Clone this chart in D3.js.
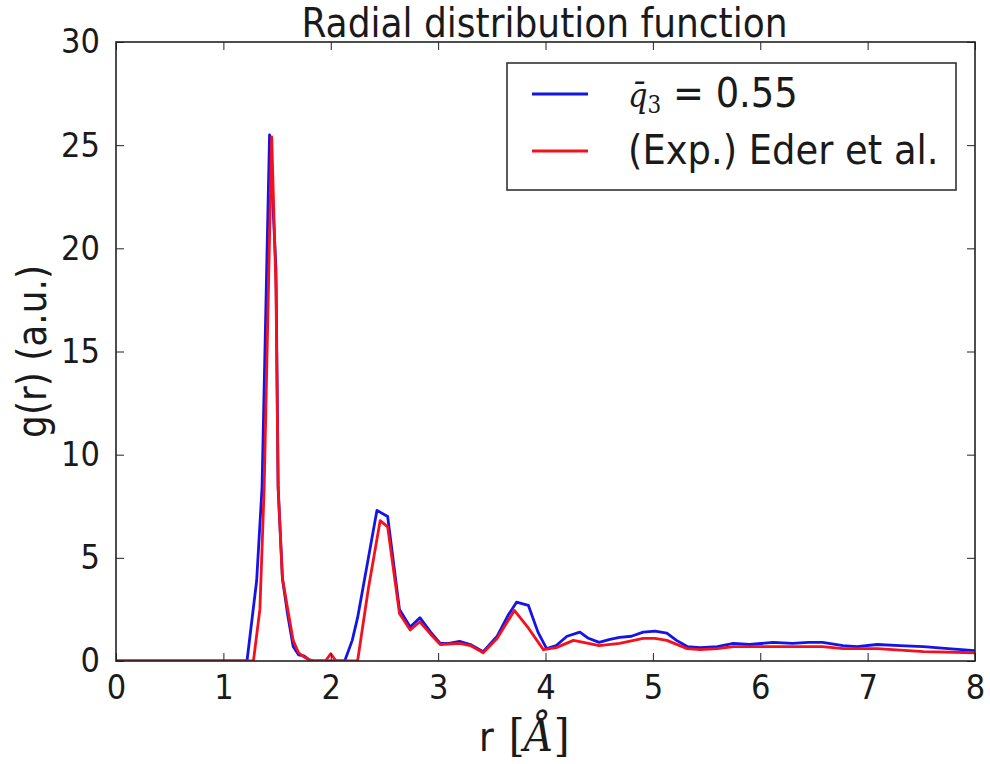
<!DOCTYPE html>
<html>
<head>
<meta charset="utf-8">
<script src="https://cdn.jsdelivr.net/npm/d3@7"></script>
<style>
  html, body { margin: 0; padding: 0; background: #fff; }
  svg { display: block; }
  text { font-family: "DejaVu Sans Condensed", "DejaVu Sans", sans-serif; font-stretch: condensed; fill: #1a1a1a; }
</style>
</head>
<body>
<svg id="chart" width="990" height="764"></svg>
<script>
// Simulated g(r) for q3 = 0.55
const rSim = [0, 1.22, 1.31, 1.36, 1.43, 1.49, 1.51, 1.55, 1.6, 1.65, 1.7, 1.75, 1.8, 1.85,
  2.13, 2.2, 2.25, 2.43, 2.53, 2.64, 2.74, 2.83, 2.93, 3.02, 3.1, 3.2, 3.3, 3.42, 3.55, 3.65,
  3.73, 3.84, 3.93, 4.01, 4.1, 4.2, 4.32, 4.4, 4.5, 4.6, 4.69, 4.8, 4.91, 5.02, 5.13, 5.22,
  5.32, 5.44, 5.6, 5.75, 5.9, 6.12, 6.3, 6.45, 6.58, 6.77, 6.9, 7.09, 7.3, 7.52, 7.75, 8.0];
const gSim = [0, 0, 3.9, 8.4, 25.5, 19, 8.4, 4, 2.2, 0.7, 0.3, 0.25, 0.05, 0,
  0, 1.0, 2.1, 7.3, 7.0, 2.5, 1.65, 2.1, 1.4, 0.85, 0.85, 0.95, 0.8, 0.45, 1.2, 2.2,
  2.85, 2.7, 1.4, 0.6, 0.75, 1.2, 1.4, 1.1, 0.9, 1.05, 1.15, 1.2, 1.4, 1.45, 1.35, 1.0,
  0.7, 0.65, 0.7, 0.85, 0.8, 0.9, 0.85, 0.9, 0.9, 0.75, 0.7, 0.8, 0.75, 0.7, 0.6, 0.5];

// Experimental g(r), Eder et al.
const rExp = [0, 1.28, 1.34, 1.38, 1.45, 1.49, 1.51, 1.55, 1.6, 1.65, 1.7, 1.75, 1.8, 1.85,
  1.95, 2.0, 2.05, 2.25, 2.35, 2.46, 2.53, 2.64, 2.74, 2.83, 2.93, 3.02, 3.2, 3.3, 3.42,
  3.55, 3.71, 3.84, 3.98, 4.1, 4.26, 4.4, 4.5, 4.69, 4.91, 5.02, 5.13, 5.32, 5.44, 5.6,
  5.75, 6.12, 6.58, 6.77, 7.09, 7.52, 8.0];
const gExp = [0, 0, 2.5, 8.4, 25.4, 18, 8.4, 4, 2.5, 1.0, 0.4, 0.2, 0.05, 0,
  0, 0.35, 0, 0, 3.5, 6.8, 6.5, 2.3, 1.5, 1.9, 1.3, 0.8, 0.85, 0.75, 0.4,
  1.1, 2.45, 1.6, 0.55, 0.65, 1.0, 0.85, 0.75, 0.85, 1.1, 1.1, 1.0, 0.6, 0.55, 0.6,
  0.7, 0.7, 0.7, 0.6, 0.6, 0.45, 0.4];

const xTickValues = [0, 1, 2, 3, 4, 5, 6, 7, 8];
const yTickValues = [0, 5, 10, 15, 20, 25, 30];

const margin = { left: 116, right: 15, top: 42, bottom: 103 };
const W = 990, H = 764;
const iw = W - margin.left - margin.right;
const ih = H - margin.top - margin.bottom;

const svg = d3.select("#chart");
const g = svg.append("g").attr("transform", `translate(${margin.left},${margin.top})`);

const x = d3.scaleLinear().domain([0, 8]).range([0, iw]);
const y = d3.scaleLinear().domain([0, 30]).range([ih, 0]);

svg.append("defs").append("clipPath").attr("id", "plotClip")
  .append("rect").attr("width", iw).attr("height", ih);

const line = d3.line().x(d => x(d[0])).y(d => y(d[1]));
const series = [
  { name: "sim", r: rSim, v: gSim, color: "#1414e6" },
  { name: "exp", r: rExp, v: gExp, color: "#f5101e" }
];
const plot = g.append("g").attr("clip-path", "url(#plotClip)");
series.forEach(s => {
  plot.append("path")
    .datum(s.r.map((r, i) => [r, s.v[i]]))
    .attr("d", line)
    .attr("fill", "none")
    .attr("stroke", s.color)
    .attr("stroke-width", 2.8)
    .attr("stroke-linejoin", "round");
});

// Axes with inward ticks on all four sides
const tickLen = 8;
const axB = g.append("g").attr("transform", `translate(0,${ih})`)
  .call(d3.axisBottom(x).tickValues(xTickValues).tickSizeInner(-tickLen).tickSizeOuter(0).tickPadding(14));
const axT = g.append("g")
  .call(d3.axisTop(x).tickValues(xTickValues).tickSizeInner(-tickLen).tickSizeOuter(0).tickFormat(""));
const axL = g.append("g")
  .call(d3.axisLeft(y).tickValues(yTickValues).tickSizeInner(-tickLen).tickSizeOuter(0).tickPadding(16));
const axR = g.append("g").attr("transform", `translate(${iw},0)`)
  .call(d3.axisRight(y).tickValues(yTickValues).tickSizeInner(-tickLen).tickSizeOuter(0).tickFormat(""));

[axB, axT, axL, axR].forEach(a => {
  a.select(".domain").remove();
  a.selectAll(".tick line").attr("stroke", "#222").attr("stroke-width", 1);
  a.selectAll(".tick text").attr("font-size", 34)
    .attr("font-family", "DejaVu Sans Condensed, DejaVu Sans").attr("fill", "#1a1a1a");
});

// Frame
g.append("rect").attr("width", iw).attr("height", ih)
  .attr("fill", "none").attr("stroke", "#222").attr("stroke-width", 1.6);

// Title
svg.append("text")
  .attr("x", margin.left + iw / 2 - 1).attr("y", 37)
  .attr("text-anchor", "middle").attr("font-size", 40)
  .text("Radial distribution function");

// Axis labels
const xl = svg.append("text")
  .attr("x", 479).attr("y", 751)
  .attr("text-anchor", "start").attr("font-size", 40);
xl.append("tspan").text("r");
xl.append("tspan").attr("font-family", "DejaVu Serif").attr("font-size", 45).attr("dx", 15).text("[");
xl.append("tspan").attr("font-family", "DejaVu Serif").attr("font-size", 45).attr("font-style", "italic").text("Å");
xl.append("tspan").attr("font-family", "DejaVu Serif").attr("font-size", 45).text("]");

svg.append("text")
  .attr("transform", `translate(46,${margin.top + ih / 2}) rotate(-90)`)
  .attr("text-anchor", "middle").attr("font-size", 40)
  .text("g(r) (a.u.)");

// Legend
const leg = svg.append("g").attr("transform", "translate(507,63)");
leg.append("rect").attr("width", 449).attr("height", 127)
  .attr("fill", "#fff").attr("stroke", "#333").attr("stroke-width", 1.6);
const legY = [31, 88];
series.forEach((s, i) => {
  leg.append("line").attr("x1", 25).attr("x2", 81).attr("y1", legY[i]).attr("y2", legY[i])
    .attr("stroke", s.color).attr("stroke-width", 2.8);
});
const t1 = leg.append("text").attr("x", 121).attr("y", legY[0] + 13).attr("font-size", 41);
t1.append("tspan").attr("font-family", "DejaVu Serif").attr("font-style", "italic")
  .attr("font-size", 34).text("q\u0304");
t1.append("tspan").attr("font-family", "DejaVu Serif").attr("font-size", 24).attr("dy", 6).text("3");
t1.append("tspan").attr("dy", -6).text(" = 0.55");
leg.append("text").attr("x", 121).attr("y", legY[1] + 13).attr("font-size", 41)
  .text("(Exp.) Eder et al.");
</script>
</body>
</html>
